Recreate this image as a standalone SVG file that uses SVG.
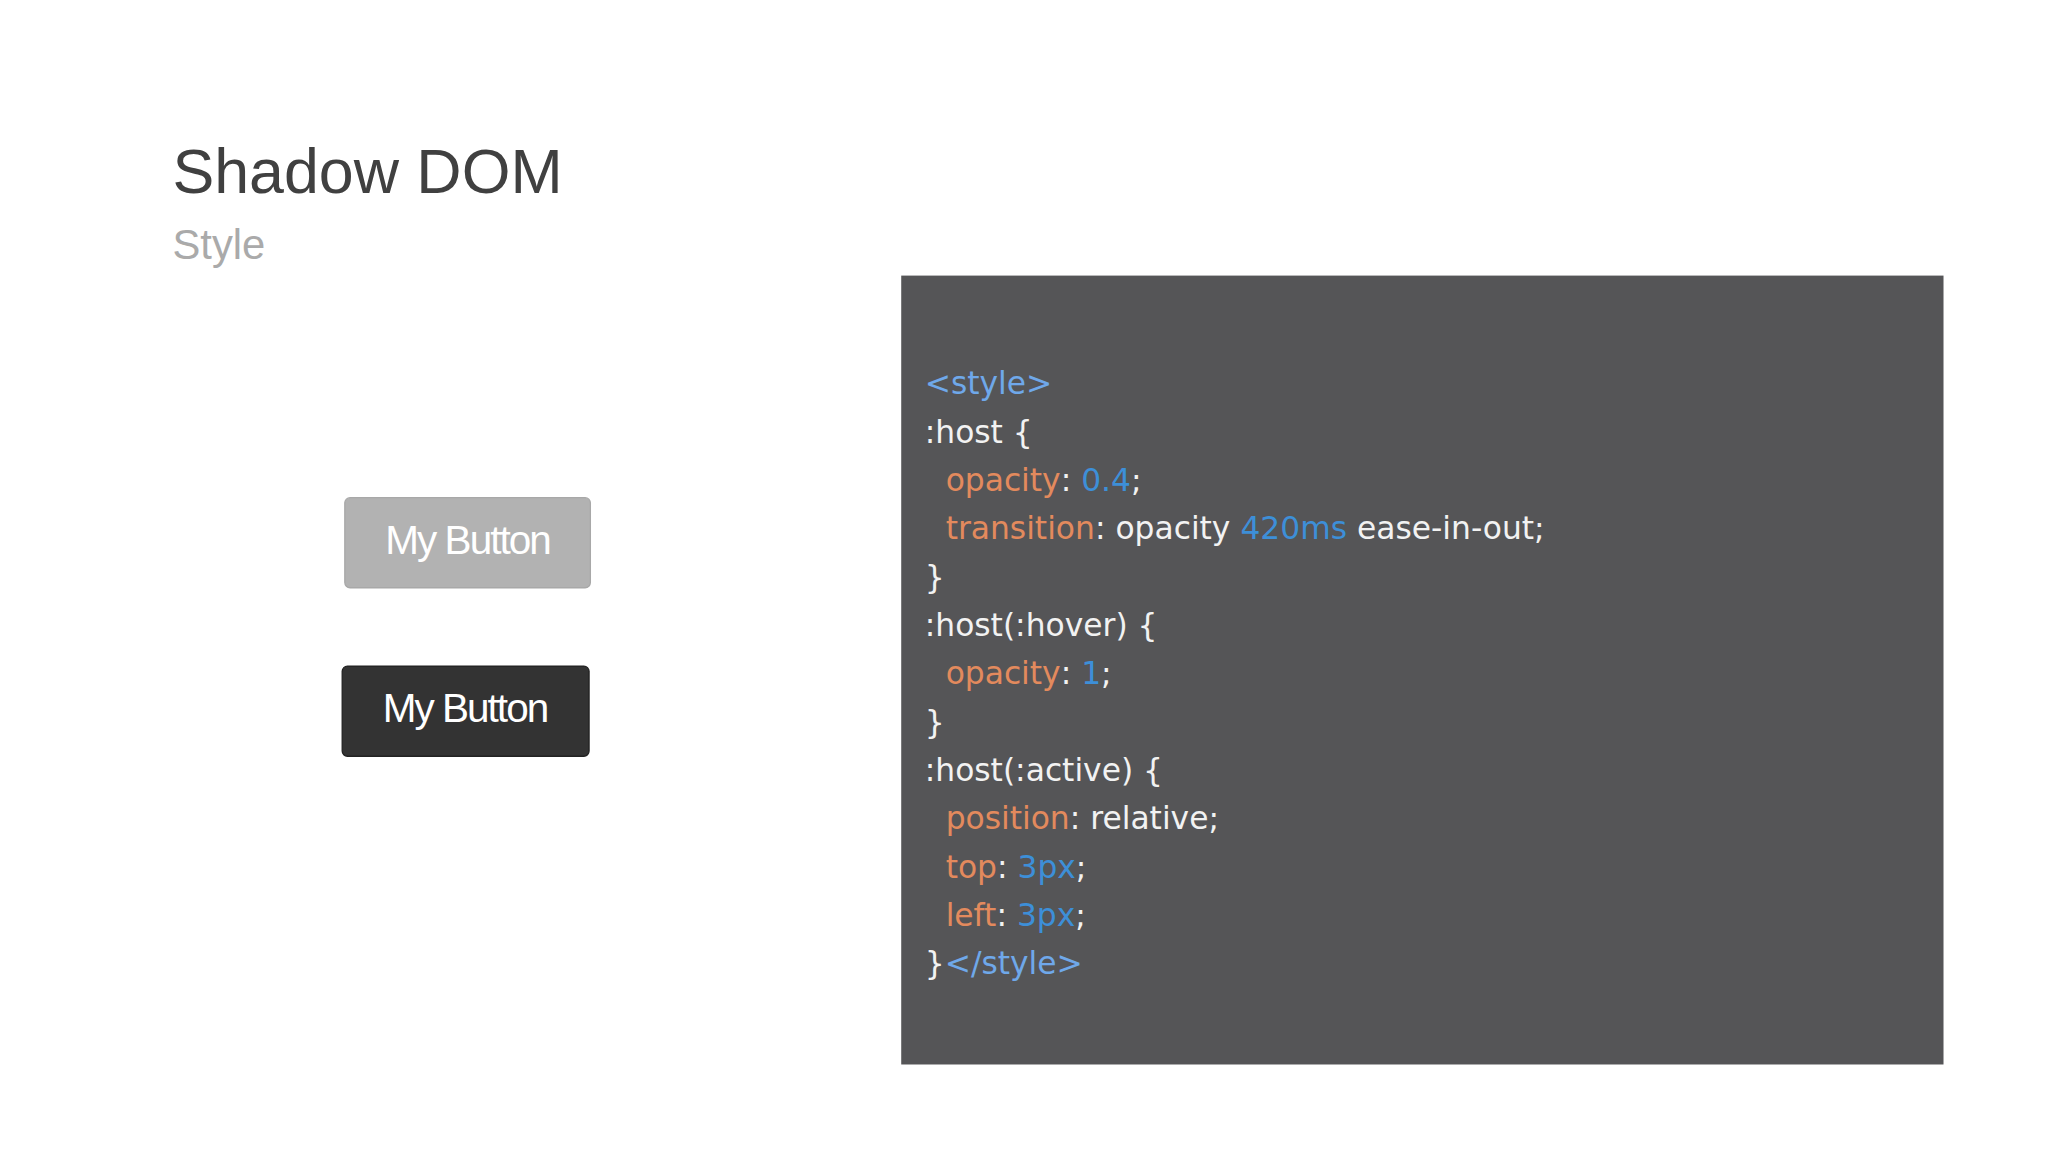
<svg xmlns="http://www.w3.org/2000/svg" width="2048" height="1152" viewBox="0 0 2048 1152">
<style>
.c{font-family:"DejaVu Sans",sans-serif;font-size:24px;fill:#f2f2f2}
.t{fill:#6fa8ea}.p{fill:#e38a5d}.n{fill:#3d8fd8}
.b{font-family:"Liberation Sans",sans-serif;font-size:31px;fill:#fff;text-anchor:middle;letter-spacing:-1.5px}
</style>
<rect width="2048" height="1152" fill="#fff"/>
<g transform="scale(1.30612)">
<g id="title"><text x="132" y="148" font-family="Liberation Sans,sans-serif" font-size="48" fill="#404040">Shadow DOM</text>
<text x="132" y="198" font-family="Liberation Sans,sans-serif" font-size="32" fill="#aaaaaa">Style</text></g>
<g id="btn1"><rect x="264" y="381" width="188" height="69" rx="4" fill="#b2b2b2" stroke="#a8a8a8"/><text class="b" x="358" y="424">My Button</text></g>
<g id="btn2"><rect x="262" y="510" width="189" height="69" rx="4" fill="#333333" stroke="#222"/><text class="b" x="356" y="553">My Button</text></g>
<g id="code"><rect x="690" y="211" width="798" height="604" fill="#555557"/>
<text class="c" x="708" y="302"><tspan class="t">&lt;style&gt;</tspan></text>
<text class="c" x="708" y="339">:host {</text>
<text class="c" x="724" y="376"><tspan class="p">opacity</tspan>: <tspan class="n">0.4</tspan>;</text>
<text class="c" x="724" y="413"><tspan class="p">transition</tspan>: opacity <tspan class="n">420ms</tspan> ease-in-out;</text>
<text class="c" x="708" y="450">}</text>
<text class="c" x="708" y="487">:host(:hover) {</text>
<text class="c" x="724" y="524"><tspan class="p">opacity</tspan>: <tspan class="n">1</tspan>;</text>
<text class="c" x="708" y="561">}</text>
<text class="c" x="708" y="598">:host(:active) {</text>
<text class="c" x="724" y="635"><tspan class="p">position</tspan>: relative;</text>
<text class="c" x="724" y="672"><tspan class="p">top</tspan>: <tspan class="n">3px</tspan>;</text>
<text class="c" x="724" y="709"><tspan class="p">left</tspan>: <tspan class="n">3px</tspan>;</text>
<text class="c" x="708" y="746">}<tspan class="t">&lt;/style&gt;</tspan></text>
</g>
</g>
</svg>
